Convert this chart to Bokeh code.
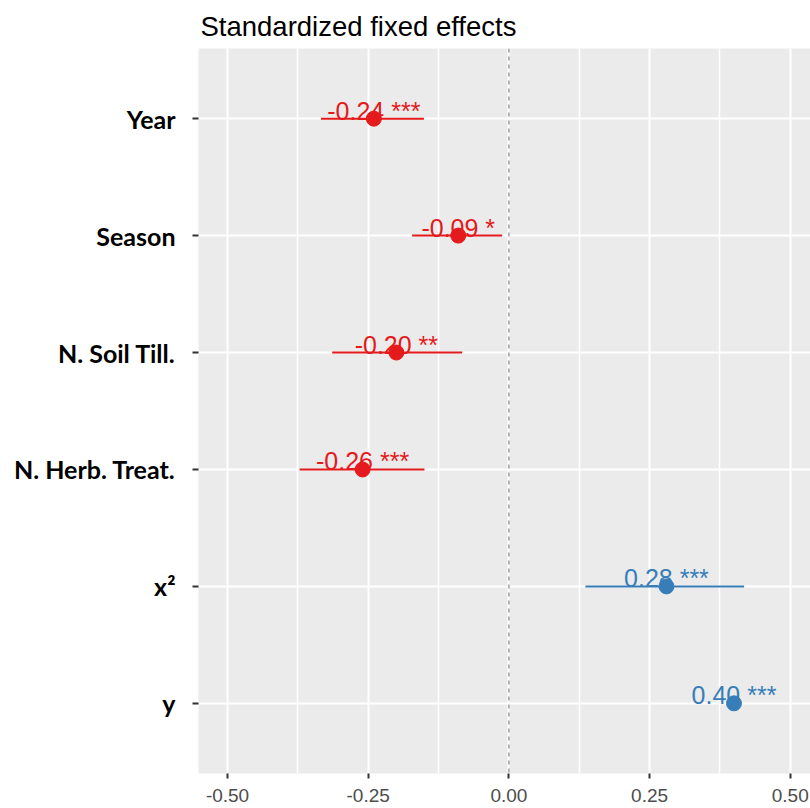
from bokeh.plotting import figure
from bokeh.models import (ColumnDataSource, Range1d, FixedTicker, Span,
                          PrintfTickFormatter)
from bokeh.core.properties import value
from bokeh.embed import file_html
from bokeh.resources import INLINE

# Model terms, top to bottom
terms = ["Year", "Season", "N. Soil Till.", "N. Herb. Treat.", "x²", "y"]
estimates = [-0.24, -0.09, -0.20, -0.26, 0.28, 0.40]
ci_low = [-0.334, -0.172, -0.314, -0.372, 0.136, 0.392]
ci_high = [-0.151, -0.012, -0.083, -0.150, 0.418, 0.408]
stars = ["***", "*", "**", "***", "***", "***"]
x_ticks = [-0.50, -0.25, 0.00, 0.25, 0.50]

RED = "#E41A1C"
BLUE = "#377EB8"

n = len(terms)
ypos = [n - i for i in range(n)]  # first term drawn at the top
colors = [RED if e < 0 else BLUE for e in estimates]
labels = [f"{e:.2f} {s}" for e, s in zip(estimates, stars)]

src = ColumnDataSource(dict(y=ypos, est=estimates, lo=ci_low, hi=ci_high,
                            color=colors, label=labels))

p = figure(width=810, height=808, output_backend="svg", toolbar_location=None,
           x_range=Range1d(-0.5516, 0.536), y_range=Range1d(0.4, n + 0.6),
           min_border_left=198, min_border_right=0, min_border_top=48,
           min_border_bottom=35)

p.title.text = "Standardized fixed effects"
p.title.text_font = "Liberation Sans"
p.title.text_font_size = "27.5px"
p.title.text_font_style = "normal"
p.title.text_color = "#000000"
p.title.align = "left"
p.title.offset = 2
p.title.standoff = 14

p.background_fill_color = "#EBEBEB"
p.border_fill_color = "#FFFFFF"
p.outline_line_color = None

# grid
p.xgrid.ticker = FixedTicker(ticks=x_ticks,
                             minor_ticks=[-0.375, -0.125, 0.125, 0.375])
p.xgrid.grid_line_color = "#FFFFFF"
p.xgrid.grid_line_width = 2
p.xgrid.minor_grid_line_color = "#FFFFFF"
p.xgrid.minor_grid_line_width = 1.5
p.ygrid.ticker = FixedTicker(ticks=ypos)
p.ygrid.grid_line_color = "#FFFFFF"
p.ygrid.grid_line_width = 2

# x axis
xa = p.xaxis[0]
xa.ticker = FixedTicker(ticks=x_ticks)
xa.formatter = PrintfTickFormatter(format="%.2f")
xa.axis_line_color = None
xa.major_tick_in = 0
xa.major_tick_out = 5
xa.major_tick_line_color = "#333333"
xa.major_tick_line_width = 2
xa.minor_tick_line_color = None
xa.major_label_text_font = "Liberation Sans"
xa.major_label_text_font_size = "19px"
xa.major_label_text_color = "#4D4D4D"
xa.major_label_standoff = 10

# y axis
ya = p.yaxis[0]
ya.ticker = FixedTicker(ticks=ypos)
ya.major_label_overrides = {y: t for y, t in zip(ypos, terms)}
ya.axis_line_color = None
ya.major_tick_in = 0
ya.major_tick_out = 6
ya.major_tick_line_color = "#333333"
ya.major_tick_line_width = 2
ya.minor_tick_line_color = None
ya.major_label_text_font = "Lato"
ya.major_label_text_font_style = "bold"
ya.major_label_text_font_size = "25px"
ya.major_label_text_color = "#000000"
ya.major_label_standoff = 17

# zero reference line
p.add_layout(Span(location=0, dimension="height", line_color="#A0A0A0",
                  line_width=1.5, line_dash="4 4"))

# confidence intervals
p.segment(x0="lo", x1="hi", y0="y", y1="y", line_color="color",
          line_width=2, source=src)

# value labels, sitting on the interval line
p.text(x="est", y="y", text="label", text_color="color",
       text_font=value("Liberation Sans"), text_font_size="25px",
       text_align="center", text_baseline="bottom", y_offset=6, source=src)

# point estimates
p.scatter(x="est", y="y", size=15, fill_color="color", line_color="color",
          source=src)

open("out.html", "w").write(file_html(p, INLINE))
